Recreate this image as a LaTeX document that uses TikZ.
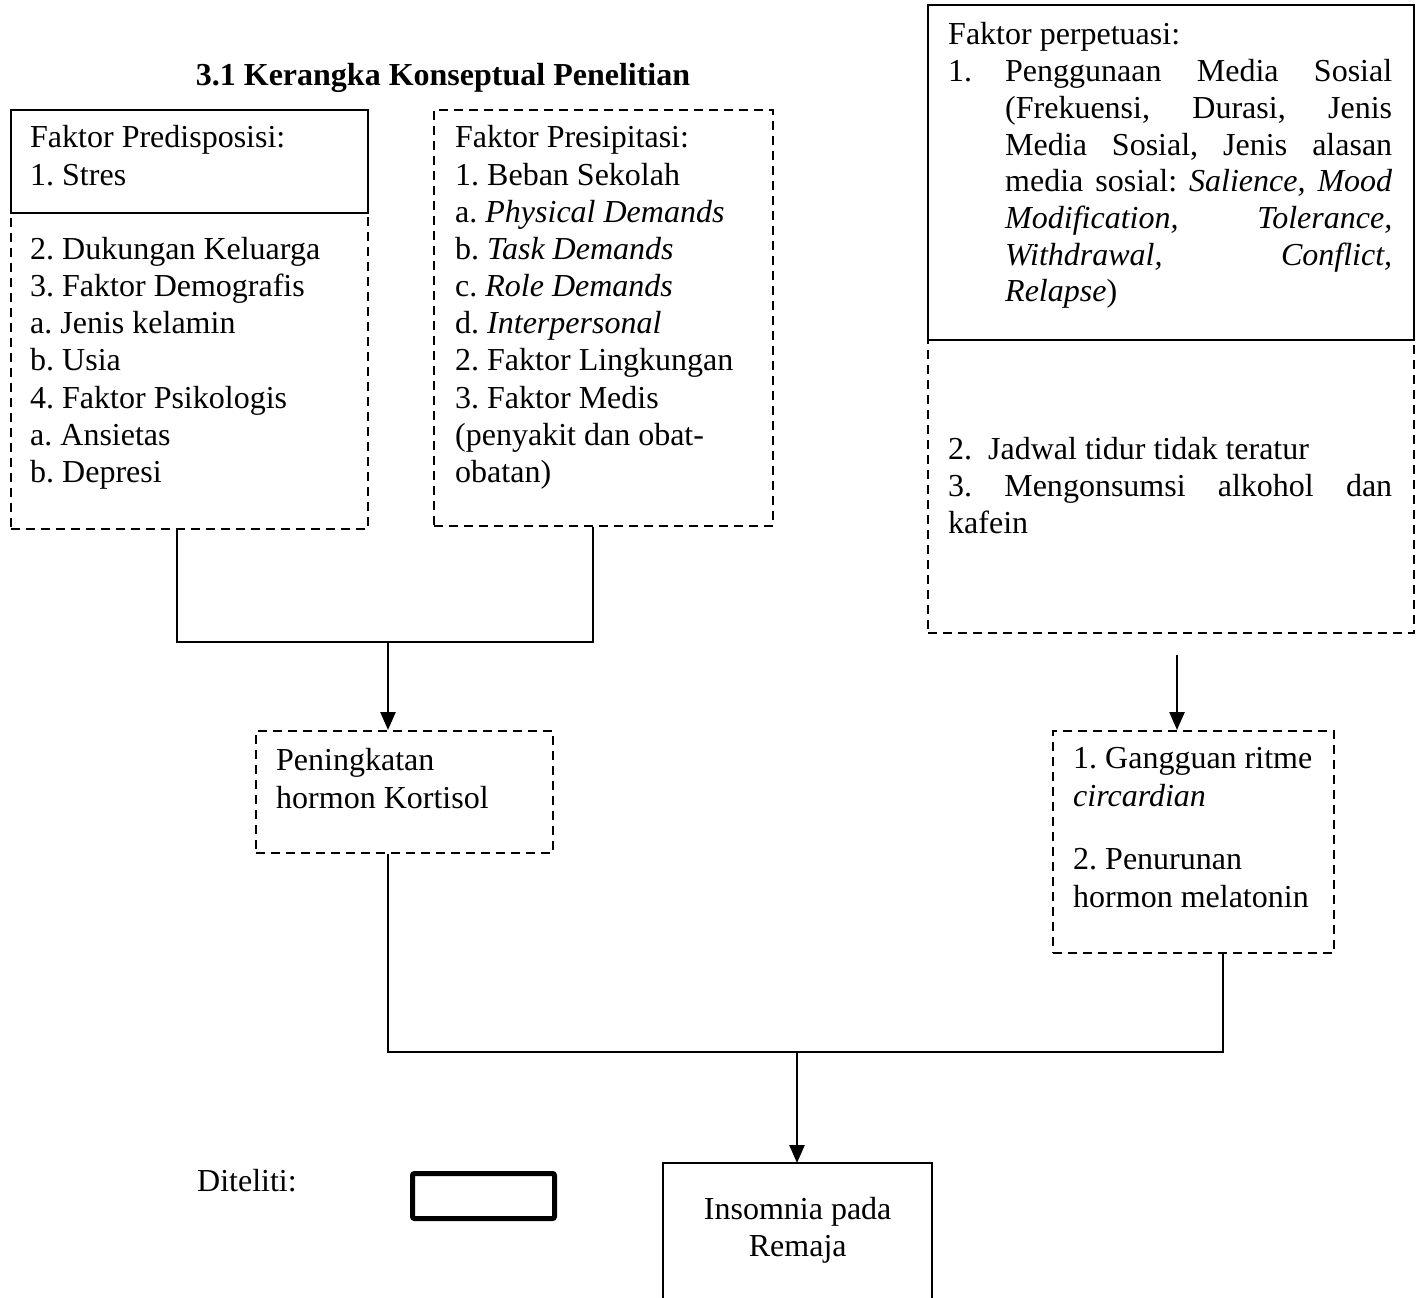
\documentclass[tikz,border=0pt]{standalone}
\usepackage{fontspec}
\setmainfont{Liberation Serif}
\usetikzlibrary{arrows.meta}
\frenchspacing
\begin{document}
\begin{tikzpicture}[x=1pt,y=-1pt,
  solidbox/.style={draw=black, line width=2pt, inner sep=0pt, anchor=north west},
  dashbox/.style={draw=black, line width=2.4pt, dash pattern=on 9pt off 6pt, inner sep=0pt, anchor=north west},
  txt/.style={anchor=base west, inner sep=0pt, font=\fontsize{32}{37.15}\selectfont},
  conn/.style={draw=black, line width=2.4pt},
  arr/.style={conn, -{Triangle[length=18pt,width=15pt]}}]
\useasboundingbox (0,0) rectangle (1420,1297);
\fill[white] (0,0) rectangle (1420,1297);

% title
\node[anchor=base, inner sep=0pt, font=\fontsize{32}{37}\selectfont\bfseries] (title) at (443,86) {3.1 Kerangka Konseptual Penelitian};

% box A
\node[dashbox, minimum width=357pt, minimum height=316pt] (A2) at (10,212) {};
\node[solidbox, minimum width=357pt, minimum height=103pt] (A1) at (10,109) {};
\node[txt] (tA) at (30,148) {\parbox[t]{330pt}{Faktor Predisposisi:\\1. Stres\\[37.15pt]2. Dukungan Keluarga\\3. Faktor Demografis\\a. Jenis kelamin\\b. Usia\\4. Faktor Psikologis\\a. Ansietas\\b. Depresi}};

% box B
\node[dashbox, minimum width=339pt, minimum height=416pt] (B) at (433,109) {};
\node[txt] (tB) at (455,148) {\parbox[t]{310pt}{Faktor Presipitasi:\\1. Beban Sekolah\\a. \textit{Physical Demands}\\b. \textit{Task Demands}\\c. \textit{Role Demands}\\d. \textit{Interpersonal}\\2. Faktor Lingkungan\\3. Faktor Medis\\(penyakit dan obat-\\obatan)}};

% box C
\node[dashbox, minimum width=486pt, minimum height=293pt] (C2) at (927,339) {};
\node[solidbox, minimum width=486pt, minimum height=335pt] (C1) at (927,4) {};
\node[txt, font=\fontsize{32}{36.7}\selectfont] (tC1) at (948,45) {\parbox[t]{444pt}{Faktor perpetuasi:\\
\makebox[57pt][l]{1.}\makebox[387pt][s]{Penggunaan Media Sosial}\\
\hspace*{57pt}\makebox[387pt][s]{(Frekuensi, Durasi, Jenis}\\
\hspace*{57pt}\makebox[387pt][s]{Media Sosial, Jenis alasan}\\
\hspace*{57pt}\makebox[387pt][s]{media sosial: \textit{Salience, Mood}}\\
\hspace*{57pt}\makebox[387pt][s]{\textit{Modification, Tolerance,}}\\
\hspace*{57pt}\makebox[387pt][s]{\textit{Withdrawal, Conflict,}}\\
\hspace*{57pt}\textit{Relapse})}};
\node[txt, font=\fontsize{32}{37}\selectfont] (tC2) at (948,459) {\parbox[t]{444pt}{\makebox[40pt][l]{2.}Jadwal tidur tidak teratur\\
\makebox[444pt][s]{3. Mengonsumsi alkohol dan}\\
kafein}};

% box D
\node[dashbox, minimum width=297pt, minimum height=122pt] (D) at (255,730) {};
\node[txt, font=\fontsize{32}{38}\selectfont] (tD) at (276,770) {\parbox[t]{270pt}{Peningkatan\\hormon Kortisol}};

% box E
\node[dashbox, minimum width=281pt, minimum height=222pt] (E) at (1052,730) {};
\node[txt, font=\fontsize{32}{38.5}\selectfont] (tE) at (1073,768) {\parbox[t]{255pt}{1. Gangguan ritme\\\textit{circardian}\\[24pt]2. Penurunan\\hormon melatonin}};

% box F (bottom cut off by page edge)
\node[anchor=north west, inner sep=0pt, minimum width=269pt, minimum height=147pt] (F) at (663,1163) {};
\draw[line width=2pt] (F.south west) -- (F.north west) -- (F.north east) -- (F.south east);
\node[txt, font=\fontsize{32}{37}\selectfont] (tF) at (663,1219) {\parbox[t]{269pt}{\centering Insomnia pada\\Remaja}};

% legend
\node[anchor=base west, inner sep=0pt, font=\fontsize{32}{37}\selectfont] (dit) at (197,1191) {Diteliti:};
\node[draw=black, line width=5pt, rounded corners=2pt, inner sep=0pt, anchor=north west, minimum width=142pt, minimum height=45pt] (leg) at (410,1171) {};

% connectors
\coordinate (jA) at (177,642);
\coordinate (jB) at (593,642);
\coordinate (jM) at (388,642);
\draw[conn] (A2.south -| jA) -- (jA) -- (jB) -- (B.south -| jB);
\draw[arr] (jM) -- (D.north -| jM);

\coordinate (cE) at (1177,655);
\draw[arr] (cE) -- (E.north -| cE);

\coordinate (jD) at (388,1052);
\coordinate (jE) at (1223,1052);
\coordinate (jF) at (797,1052);
\draw[conn] (D.south -| jD) -- (jD) -- (jE) -- (E.south -| jE);
\draw[arr] (jF) -- (F.north -| jF);
\end{tikzpicture}
\end{document}
